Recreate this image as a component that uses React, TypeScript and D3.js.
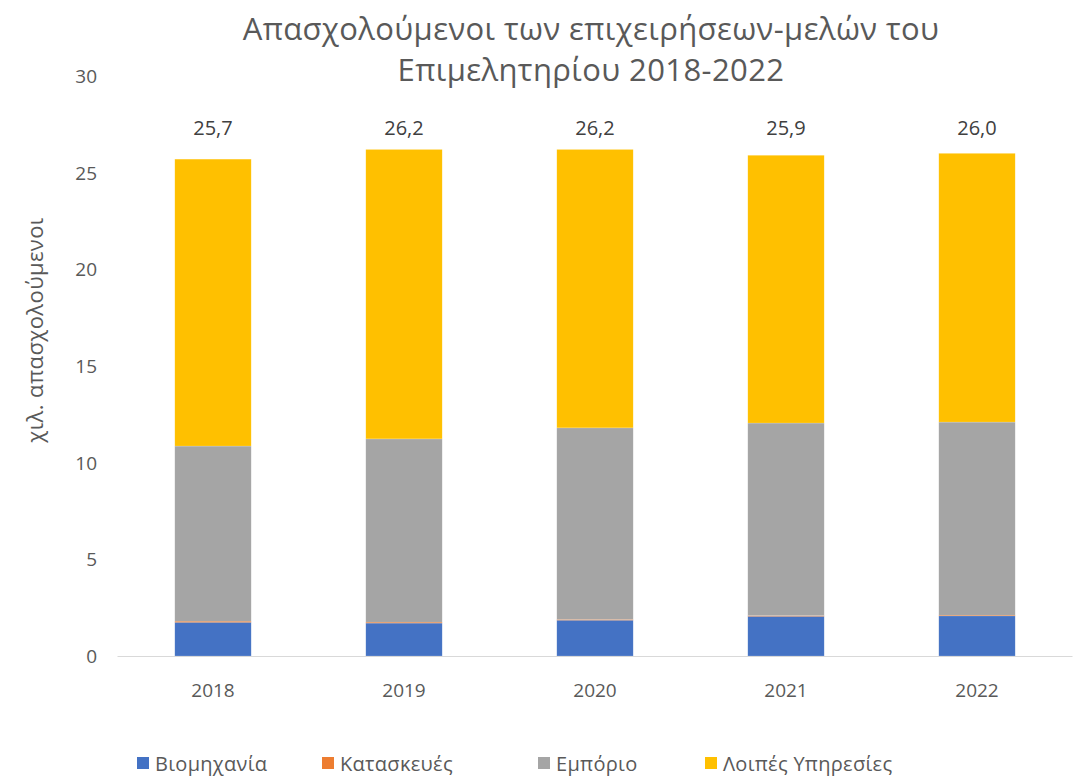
import React from 'react'
import * as d3 from 'd3'

const years = ['2018', '2019', '2020', '2021', '2022']
const seriesNames = ['Βιομηχανία', 'Κατασκευές', 'Εμπόριο', 'Λοιπές Υπηρεσίες']
const seriesColors = ['#4472c4', '#ed7d31', '#a5a5a5', '#ffc000']
const industry = [1.74, 1.70, 1.85, 2.05, 2.07]
const construction = [0.06, 0.05, 0.04, 0.04, 0.04]
const commerce = [9.06, 9.48, 9.91, 9.96, 9.99]
const services = [14.84, 14.97, 14.40, 13.85, 13.90]
const totals = ['25,7', '26,2', '26,2', '25,9', '26,0']
const yTicks = [0, 5, 10, 15, 20, 25, 30]
const legendX = [137, 322, 538, 705]

const W = 1076
const H = 776
const font = '"Open Sans", "Noto Sans", sans-serif'

export default function App() {
  const x = d3.scaleBand().domain(years).range([117.5, 1072.5]).paddingInner(0.6).paddingOuter(0.3)
  const y = d3.scaleLinear().domain([0, 30]).range([656, 76])

  const table = years.map((yr, i) => ({
    year: yr,
    s0: industry[i],
    s1: construction[i],
    s2: commerce[i],
    s3: services[i],
  }))
  const stacked = d3.stack<any>().keys(['s0', 's1', 's2', 's3'])(table)

  return (
    <svg width={W} height={H} style={{ position: 'absolute', left: 0, top: 0 }}>
      <rect width={W} height={H} fill="#ffffff" />
      <text x={591} y={40} textAnchor="middle" fontFamily={font} fontSize={31} letterSpacing={0.4} fill="#595959">
        Απασχολούμενοι των επιχειρήσεων-μελών του
      </text>
      <text x={591} y={81} textAnchor="middle" fontFamily={font} fontSize={31} letterSpacing={0.4} fill="#595959">
        Επιμελητηρίου 2018-2022
      </text>

      <text transform={`translate(43,330) rotate(-90)`} textAnchor="middle" fontFamily={font} fontSize={22} letterSpacing={0.4} fill="#595959">
        χιλ. απασχολούμενοι
      </text>

      {yTicks.map(t => (
        <text key={t} x={97} y={y(t) + 7} textAnchor="end" fontFamily={font} fontSize={19} fill="#595959">{t}</text>
      ))}

      {stacked.map((layer, si) => (
        <g key={si} fill={seriesColors[si]}>
          {layer.map((d, i) => (
            <rect key={i} x={x(years[i])} y={y(d[1])} width={x.bandwidth()}
              height={Math.max(y(d[0]) - y(d[1]), 0)}
              stroke={si === 1 ? 'none' : '#ffffff'} strokeOpacity={0.35} strokeWidth={0.5} />
          ))}
        </g>
      ))}

      <line x1={117.5} x2={1072.5} y1={656.5} y2={656.5} stroke="#d9d9d9" strokeWidth={1} />

      {years.map((yr, i) => (
        <text key={yr} x={(x(yr) as number) + x.bandwidth() / 2} y={697} textAnchor="middle" fontFamily={font} fontSize={19} fill="#595959">{yr}</text>
      ))}

      {years.map((yr, i) => (
        <text key={yr} x={(x(yr) as number) + x.bandwidth() / 2} y={135} textAnchor="middle" fontFamily={font} fontSize={20} fill="#404040">{totals[i]}</text>
      ))}

      {seriesNames.map((n, i) => (
        <g key={n}>
          <rect x={legendX[i]} y={757} width={12} height={12} fill={seriesColors[i]} />
          <text x={legendX[i] + 18} y={771} fontFamily={font} fontSize={20} letterSpacing={0.3} fill="#595959">{n}</text>
        </g>
      ))}
    </svg>
  )
}
